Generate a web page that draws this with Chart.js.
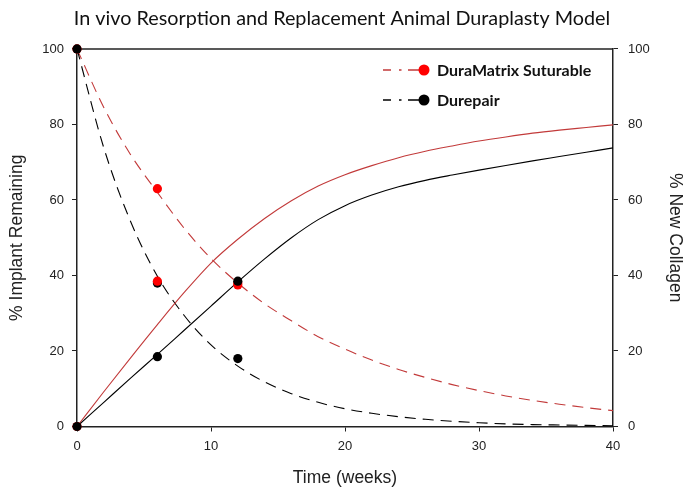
<!DOCTYPE html>
<html><head><meta charset="utf-8">
<script src="https://cdn.jsdelivr.net/npm/chart.js@4"></script>
<style>html,body{margin:0;padding:0;background:#fff}#wrap{width:684px;height:489px}</style>
</head><body><div id="wrap"><canvas id="c" width="684" height="489"></canvas></div>
<script>
const chartTitle = "In vivo Resorption and Replacement Animal Duraplasty Model";
const xAxisTitle = "Time (weeks)";
const yAxisTitle = "% Implant Remaining";
const y2AxisTitle = "% New Collagen";
const seriesNames = ["DuraMatrix Suturable", "Durepair"];
const xTicks = [0, 10, 20, 30, 40];
const yTicks = [0, 20, 40, 60, 80, 100];

// measured points
const pointWeeks = [0, 6, 12];
const duraMatrixImplant = [100, 63, 37.5];
const duraMatrixCollagen = [0, 38.5, 38];
const durepairImplant = [100, 38, 18];
const durepairCollagen = [0, 18.5, 38.5];

// fitted curves
const curveWeeks = [0,2,4,6,8,10,12,14,16,18,20,22,24,26,28,30,32,34,36,38,40];
const fitDuraMatrixImplant = [100,84.5,72,62,52.5,44.5,38,32.5,28,23.8,20.5,17.6,15.1,13,11.1,9.5,8.1,6.9,5.9,5,4.2];
const fitDurepairImplant = [100,73.8,54.3,39.8,29.4,21.6,16,11.8,8.7,6.4,4.7,3.5,2.6,1.9,1.4,1.0,0.7,0.5,0.4,0.3,0.2];
const fitDuraMatrixCollagen = [0,9.2,18.2,27,35.5,43.3,49.6,55.1,59.8,63.7,66.7,69.1,71.2,72.9,74.3,75.6,76.7,77.7,78.5,79.2,79.9];
const fitDurepairCollagen = [0,6.4,12.8,19.1,25.5,31.9,38.3,44.4,50,54.8,58.5,61.3,63.5,65.2,66.6,67.9,69.15,70.35,71.5,72.65,73.8];

const RED_LINE = '#c23a3a', RED_DOT = '#ff0000', BLACK = '#000000';
const zip = (xs, ys) => xs.map((x, i) => ({x, y: ys[i]}));

function pts(data, color, axis) {
  return {type: 'line', data: zip(pointWeeks, data), yAxisID: axis, showLine: false,
    pointRadius: 4.6, pointBackgroundColor: color, pointBorderColor: color, pointBorderWidth: 0, clip: false};
}
function curve(data, color, axis, dashed) {
  return {type: 'line', data: zip(curveWeeks, data), yAxisID: axis, borderColor: color,
    borderWidth: 1.1, borderDash: dashed ? [11, 7] : [], pointRadius: 0,
    cubicInterpolationMode: 'monotone', fill: false, clip: false};
}

const frame = {
  id: 'frame',
  beforeDatasetsDraw(chart) {
    const {ctx, chartArea: a} = chart;
    ctx.save(); ctx.strokeStyle = '#222'; ctx.lineWidth = 1.5;
    ctx.beginPath(); ctx.moveTo(a.left, a.top); ctx.lineTo(a.right, a.top); ctx.stroke();
    ctx.restore();
  },
  afterDraw(chart) {
    const ctx = chart.ctx;
    const rows = [
      {name: seriesNames[0], line: RED_LINE, dot: RED_DOT, y: 70},
      {name: seriesNames[1], line: BLACK, dot: BLACK, y: 100}
    ];
    ctx.save();
    rows.forEach(r => {
      ctx.strokeStyle = r.line; ctx.lineWidth = 1.6;
      ctx.beginPath();
      ctx.moveTo(383, r.y); ctx.lineTo(391, r.y);
      ctx.moveTo(399, r.y); ctx.lineTo(401.5, r.y);
      ctx.moveTo(408, r.y); ctx.lineTo(424, r.y);
      ctx.stroke();
      ctx.fillStyle = r.dot; ctx.beginPath(); ctx.arc(424, r.y, 5.5, 0, Math.PI * 2); ctx.fill();
      ctx.fillStyle = '#111'; ctx.font = 'bold 16px Lato, "Open Sans", sans-serif';
      ctx.textBaseline = 'middle'; ctx.textAlign = 'left';
      ctx.fillText(r.name, 437, r.y + 1);
    });
    ctx.restore();
  }
};

const tickFont = {family: '"Liberation Sans", Arial, sans-serif', size: 13};
const titleFont = {family: '"Liberation Sans", Arial, sans-serif', size: 17.5, lineHeight: 1};
const gridCfg = {display: true, drawOnChartArea: false, drawTicks: true, tickLength: 5, color: '#222', lineWidth: 1};
const borderCfg = {display: true, color: '#222', width: 1.5};

new Chart(document.getElementById('c'), {
  type: 'line',
  data: {datasets: [
    pts(durepairCollagen, BLACK, 'y2'),
    pts(duraMatrixCollagen, RED_DOT, 'y2'),
    pts(durepairImplant, BLACK, 'y'),
    pts(duraMatrixImplant, RED_DOT, 'y'),
    curve(fitDurepairCollagen, BLACK, 'y2', false),
    curve(fitDuraMatrixCollagen, RED_LINE, 'y2', false),
    curve(fitDurepairImplant, BLACK, 'y', true),
    curve(fitDuraMatrixImplant, RED_LINE, 'y', true)
  ]},
  options: {
    responsive: false, animation: false, devicePixelRatio: 1,
    layout: {padding: 0},
    plugins: {
      legend: {display: false}, tooltip: {enabled: false},
      title: {display: true, text: chartTitle, color: '#111',
        font: {family: 'Lato, "Open Sans", sans-serif', size: 19.8, weight: 'normal', lineHeight: 1.2},
        padding: {top: 7, bottom: 18.2}}
    },
    scales: {
      x: {type: 'linear', position: 'bottom', min: 0, max: 40,
        afterBuildTicks: s => { s.ticks = xTicks.map(v => ({value: v})); },
        afterFit: s => { s.height = 62.5; },
        grid: gridCfg, border: borderCfg,
        ticks: {font: tickFont, color: '#222', padding: 7, maxRotation: 0},
        title: {display: true, text: xAxisTitle, font: titleFont, color: '#222', padding: {top: 0, bottom: 2.5}}},
      y: {type: 'linear', position: 'left', min: 0, max: 100,
        afterBuildTicks: s => { s.ticks = yTicks.map(v => ({value: v})); },
        afterFit: s => { s.width = 77; },
        grid: gridCfg, border: borderCfg,
        ticks: {font: tickFont, color: '#222', padding: 8},
        title: {display: true, text: yAxisTitle, font: titleFont, color: '#222', padding: {top: 8.5, bottom: 0}}},
      y2: {type: 'linear', position: 'right', min: 0, max: 100,
        afterBuildTicks: s => { s.ticks = yTicks.map(v => ({value: v})); },
        afterFit: s => { s.width = 71; },
        grid: gridCfg, border: borderCfg,
        ticks: {font: tickFont, color: '#222', padding: 10},
        title: {display: true, text: y2AxisTitle, font: titleFont, color: '#222', padding: {top: 0, bottom: 0}}}
    }
  },
  plugins: [frame]
});
</script></body></html>
